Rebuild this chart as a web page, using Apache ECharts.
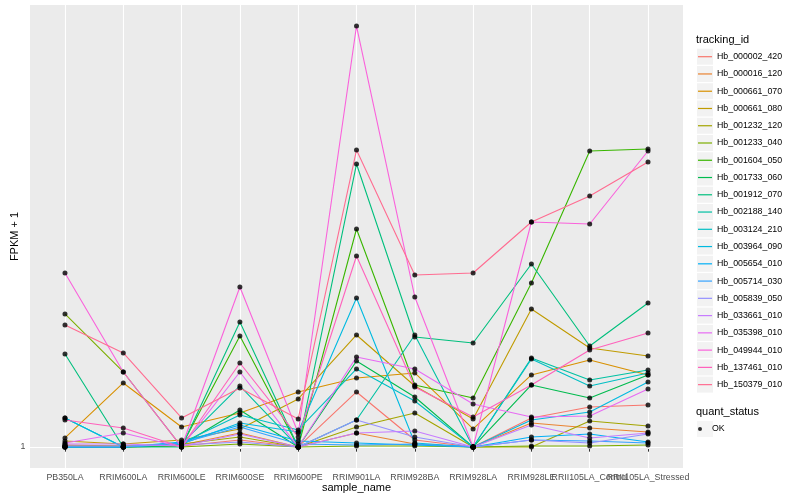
<!DOCTYPE html>
<html><head><meta charset="utf-8">
<script src="https://cdn.jsdelivr.net/npm/echarts@6/dist/echarts.min.js"></script>
<style>html,body{margin:0;padding:0;background:#fff}#c{width:800px;height:500px}</style>
</head><body><div id="c"></div>
<script>
const categories = ['PB350LA','RRIM600LA','RRIM600LE','RRIM600SE','RRIM600PE','RRIM901LA','RRIM928BA','RRIM928LA','RRIM928LE','RRII105LA_Control','RRII105LA_Stressed'];
const trackingIds = ['Hb_000002_420','Hb_000016_120','Hb_000661_070','Hb_000661_080','Hb_001232_120','Hb_001233_040','Hb_001604_050','Hb_001733_060','Hb_001912_070','Hb_002188_140','Hb_003124_210','Hb_003964_090','Hb_005654_010','Hb_005714_030','Hb_005839_050','Hb_033661_010','Hb_035398_010','Hb_049944_010','Hb_137461_010','Hb_150379_010'];
const yTickValues = [1];

const Hb_000002_420 = [1.5, 1, 1.5, 4.5, 1, 28.5, 4.5, 1, 15.5, 21, 22];
const Hb_000016_120 = [2, 1.5, 2, 8, 1, 8, 2.5, 1, 13, 10.5, 8.5];
const Hb_000661_070 = [5.5, 33, 11, 18, 28.5, 35.5, 38, 10, 37, 44.5, 37];
const Hb_000661_080 = [4, 2.5, 4.5, 10, 25, 57, 31.5, 15, 70, 50.5, 46.5];
const Hb_001232_120 = [1.5, 1.5, 2.5, 6, 1, 11, 18, 1, 1, 14, 11.5];
const Hb_001233_040 = [67.5, 38.5, 1, 2.5, 1, 1.5, 1.5, 1, 1.5, 1.5, 2];
const Hb_001604_050 = [1, 1, 1.5, 56.5, 1, 110, 32, 25.5, 83, 149, 150];
const Hb_001733_060 = [1, 1, 2, 19.5, 1, 44, 26, 1, 32, 25.5, 37];
const Hb_001912_070 = [47.5, 1, 1, 63.5, 1, 142.5, 56, 53, 92.5, 51.5, 73];
const Hb_002188_140 = [1, 1, 2.5, 31.5, 1, 14.5, 57, 1, 45.5, 34.5, 39.5];
const Hb_003124_210 = [15.5, 1, 3, 17, 9.5, 40, 24, 1, 45, 31.5, 38];
const Hb_003964_090 = [15.5, 1, 2.5, 13, 8.5, 75.5, 3, 1, 14.5, 18.5, 33.5];
const Hb_005654_010 = [1, 1, 3.5, 12, 4, 3, 2, 1, 6, 7.5, 3.5];
const Hb_005714_030 = [1, 1, 3, 11, 2.5, 2, 2.5, 1, 4.5, 4, 3];
const Hb_005839_050 = [1.5, 1.5, 2, 3.5, 1, 14.5, 6, 1, 4.5, 3, 7.5];
const Hb_033661_010 = [2.5, 2.5, 1.5, 7.5, 1, 8, 9, 1, 12, 5.5, 8];
const Hb_035398_010 = [3, 8, 1, 38.5, 1, 46, 40, 22.5, 16, 16.5, 30];
const Hb_049944_010 = [88, 38.5, 1, 81, 8, 211.5, 76, 1, 113.5, 112.5, 149];
const Hb_137461_010 = [14.5, 10.5, 1, 43, 6, 96.5, 31, 16, 32, 49.5, 58];
const Hb_150379_010 = [62, 48, 15.5, 30.5, 15, 149.5, 87, 88, 113.5, 126.5, 143.5];

const valueLists = [Hb_000002_420, Hb_000016_120, Hb_000661_070, Hb_000661_080, Hb_001232_120, Hb_001233_040, Hb_001604_050, Hb_001733_060, Hb_001912_070, Hb_002188_140, Hb_003124_210, Hb_003964_090, Hb_005654_010, Hb_005714_030, Hb_005839_050, Hb_033661_010, Hb_035398_010, Hb_049944_010, Hb_137461_010, Hb_150379_010];

const palette = ['#F8766D','#EA8331','#D89000','#C09B00','#A3A500','#7CAE00','#39B600','#00BB4E','#00BF7D','#00C1A3','#00BFC4','#00BAE0','#00B0F6','#35A2FF','#9590FF','#C77CFF','#E76BF3','#FA62DB','#FF62BC','#FF6C91'];
const FONT = 'Liberation Sans, Arial, Helvetica, sans-serif';

let lo = Infinity, hi = -Infinity;
valueLists.forEach(a => a.forEach(v => { lo = Math.min(lo, v); hi = Math.max(hi, v); }));
const span = hi - lo;
const yMin = lo - 0.05 * span, yMax = hi + 0.05 * span;
const xMin = -0.6, xMax = categories.length - 1 + 0.6;
const xIdx = categories.map((c, i) => i);
// labels split across two axes so overlapping neighbours are both drawn, as in the original
const xIdxA = xIdx.filter(i => i % 2 === 0);
const xIdxB = xIdx.filter(i => i % 2 === 1);

const lineSeries = trackingIds.map((id, k) => ({
  name: id, type: 'line', color: palette[k], showSymbol: false, symbol: 'none',
  lineStyle: { width: 1.1, color: palette[k] }, silent: true, z: 2,
  data: valueLists[k].map((v, i) => [i, v])
}));
const pointData = [];
valueLists.forEach(a => a.forEach((v, i) => pointData.push([i, v])));
const pointSeries = { name: 'OK', type: 'scatter', symbol: 'circle', symbolSize: 5,
  itemStyle: { color: '#000' }, data: pointData, z: 3, silent: true };

const labelStyle = { margin: 5, fontFamily: FONT, fontSize: 8.8, color: '#4D4D4D',
  hideOverlap: false, showMinLabel: true, showMaxLabel: true,
  formatter: v => categories[Math.round(v)] };

const chart = echarts.init(document.getElementById('c'), null, { renderer: 'canvas' });
chart.setOption({
  animation: false,
  backgroundColor: '#fff',
  grid: { left: 30, right: 117, top: 5, bottom: 32, show: true, backgroundColor: '#EBEBEB', borderWidth: 0,
    containLabel: false, outerBoundsMode: 'none' },
  xAxis: [{
    type: 'value', min: xMin, max: xMax,
    name: 'sample_name', nameLocation: 'middle', nameGap: 14.5, nameMoveOverlap: false,
    nameTextStyle: { fontFamily: FONT, fontSize: 11, color: '#000' },
    axisLine: { show: false },
    axisTick: { show: true, length: 2.7, lineStyle: { color: '#333', width: 1 }, customValues: xIdx },
    axisLabel: Object.assign({ customValues: xIdxA }, labelStyle),
    splitLine: { show: true, lineStyle: { color: '#fff', width: 1.1 } }
  }, {
    type: 'value', min: xMin, max: xMax, position: 'bottom', offset: 0,
    axisLine: { show: false },
    axisTick: { show: false, customValues: xIdxB },
    axisLabel: Object.assign({ customValues: xIdxB }, labelStyle),
    splitLine: { show: false }
  }],
  yAxis: {
    type: 'value', min: yMin, max: yMax,
    name: 'FPKM + 1', nameLocation: 'middle', nameGap: 10, nameRotate: 90, nameMoveOverlap: false,
    nameTextStyle: { fontFamily: FONT, fontSize: 11, color: '#000' },
    axisLine: { show: false },
    axisTick: { show: true, length: 2.7, lineStyle: { color: '#333', width: 1 }, customValues: yTickValues },
    axisLabel: { customValues: yTickValues, margin: 4.5, fontFamily: FONT, fontSize: 8.8, color: '#4D4D4D' },
    splitLine: { show: true, lineStyle: { color: '#fff', width: 1.1 } }
  },
  legend: [
    { data: trackingIds, orient: 'vertical', left: 697, top: 48.7, padding: 0, itemWidth: 16, itemHeight: 16, itemGap: 1.26,
      icon: 'rect', itemStyle: { color: '#F2F2F2' }, selectedMode: false, z: 3,
      textStyle: { color: 'rgba(0,0,0,0)', fontSize: 8.8, lineHeight: 16, fontFamily: FONT } },
    { data: trackingIds, orient: 'vertical', left: 698, top: 48.7, padding: 0, itemWidth: 14, itemHeight: 1.2, itemGap: 1.26,
      icon: 'rect', selectedMode: false, z: 4,
      textStyle: { color: '#000', fontSize: 8.8, lineHeight: 16, fontFamily: FONT } },
    { data: ['OK'], orient: 'vertical', left: 697, top: 421, padding: 0, itemWidth: 16, itemHeight: 16,
      icon: 'rect', itemStyle: { color: '#F2F2F2' }, selectedMode: false, z: 3,
      textStyle: { color: 'rgba(0,0,0,0)', fontSize: 8.8, lineHeight: 16, fontFamily: FONT } },
    { data: ['OK'], orient: 'vertical', left: 698, top: 421, padding: 0, itemWidth: 14, itemHeight: 4,
      icon: 'circle', selectedMode: false, z: 4,
      textStyle: { color: '#000', fontSize: 8.8, lineHeight: 16, fontFamily: FONT } }
  ],
  graphic: [
    { type: 'text', left: 696, top: 34, style: { text: 'tracking_id', font: '11px ' + FONT, fill: '#000' } },
    { type: 'text', left: 696, top: 406, style: { text: 'quant_status', font: '11px ' + FONT, fill: '#000' } }
  ],
  series: [...lineSeries, pointSeries]
});
</script></body></html>
